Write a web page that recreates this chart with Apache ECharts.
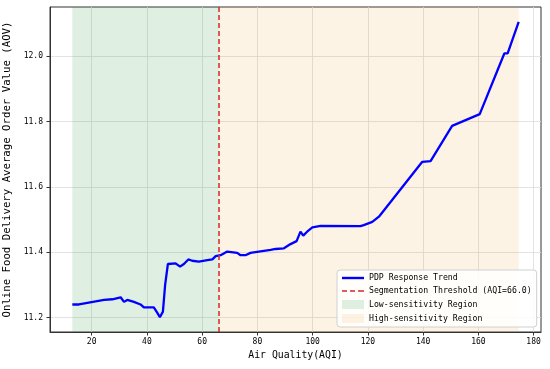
<!DOCTYPE html>
<html>
<head>
<meta charset="utf-8">
<script src="https://cdn.jsdelivr.net/npm/echarts@6/dist/echarts.min.js"></script>
<style>html,body{margin:0;padding:0;background:#fff}#c{width:550px;height:369px}</style>
</head>
<body>
<div id="c"></div>
<script>
var aqi = [13.0,15.4,24.5,27.5,30.5,31.7,32.9,35.3,37.7,38.9,42.5,43.5,44.7,45.8,46.6,47.6,50.4,52.0,53.4,55.0,56.4,58.8,61.9,63.7,64.9,66.7,69.1,72.7,73.9,75.7,77.5,80.5,84.8,86.6,89.6,92.0,94.2,95.6,96.6,98.0,99.9,102.9,117.3,118.5,121.6,124.0,139.7,142.7,150.5,160.5,169.4,170.6,174.6];
var aov = [11.240,11.240,11.254,11.256,11.262,11.248,11.254,11.248,11.240,11.231,11.231,11.218,11.201,11.218,11.300,11.364,11.366,11.356,11.364,11.378,11.374,11.371,11.376,11.378,11.388,11.391,11.402,11.398,11.391,11.391,11.398,11.402,11.407,11.410,11.412,11.425,11.434,11.463,11.451,11.463,11.476,11.481,11.480,11.483,11.493,11.509,11.677,11.679,11.787,11.823,12.009,12.009,12.106];
var threshold = 66.0;
var lowRegion = [13.0, 66.0];
var highRegion = [66.0, 174.6];
var xTicks = [20,40,60,80,100,120,140,160,180];
var yTicks = [11.2,11.4,11.6,11.8,12.0];
var names = ['PDP Response Trend','Segmentation Threshold (AQI=66.0)','Low-sensitivity Region','High-sensitivity Region'];

var FONT = '"DejaVu Sans Mono", "Liberation Mono", monospace';
var GREEN = 'rgba(30,150,60,0.14)';
var ORANGE = 'rgba(240,160,40,0.12)';
var lineData = aqi.map(function(x,i){return [x, aov[i]];});
var chart = echarts.init(document.getElementById('c'), null, {renderer:'canvas'});
var gridColor = '#dcdcdc';
chart.setOption({
  animation:false,
  backgroundColor:'#fff',
  textStyle:{fontFamily:FONT},
  grid:{left:50,right:9,top:7,bottom:37,containLabel:false,outerBoundsMode:'none',show:true,borderColor:'#333',borderWidth:1,backgroundColor:'transparent'},
  xAxis:{
    type:'value', min:4.92, max:182.68,
    name:'Air Quality(AQI)', nameLocation:'middle', nameGap:17,
    nameTextStyle:{fontSize:9.8,color:'#000',fontFamily:FONT},
    axisLine:{show:true,lineStyle:{color:'#333',width:1}},
    axisTick:{show:true,length:3.5,lineStyle:{color:'#333'},customValues:xTicks},
    axisLabel:{fontSize:8,color:'#000',margin:6,customValues:xTicks,fontFamily:FONT},
    splitLine:{show:true,lineStyle:{color:gridColor,width:0.8}}
  },
  yAxis:{
    type:'value', min:11.1557, max:12.1513,
    name:'Online Food Delivery Average Order Value (AOV)', nameLocation:'middle', nameGap:28,
    nameTextStyle:{fontSize:10.7,color:'#000',fontFamily:FONT},
    axisLine:{show:true,lineStyle:{color:'#333',width:1}},
    axisTick:{show:true,length:3.5,lineStyle:{color:'#333'},customValues:yTicks},
    axisLabel:{fontSize:8,color:'#000',margin:7,customValues:yTicks,fontFamily:FONT,formatter:function(v){return v.toFixed(1);}},
    splitLine:{show:true,lineStyle:{color:gridColor,width:0.8}}
  },
  legend:{
    left:337, top:270, orient:'vertical', itemGap:5, itemWidth:22, itemHeight:9,
    padding:[4,5,4,5], backgroundColor:'rgba(255,255,255,0.85)', borderColor:'#d0d0d0', borderWidth:1, borderRadius:3,
    textStyle:{fontSize:8.2,color:'#000',fontFamily:FONT},
    data:[
      {name:names[0], icon:'path://M0,0h22v2.4h-22z', itemStyle:{color:'#0000ff'}},
      {name:names[1], icon:'path://M0,0h5v1.6h-5z M8,0h5v1.6h-5z M16,0h6v1.6h-6z', itemStyle:{color:'#d62728'}},
      {name:names[2], icon:'rect', itemStyle:{color:GREEN}},
      {name:names[3], icon:'rect', itemStyle:{color:ORANGE}}
    ]
  },
  series:[
    {name:names[2], type:'line', data:[], color:GREEN, z:2,
      markArea:{silent:true, itemStyle:{color:GREEN}, data:[[{xAxis:lowRegion[0]},{xAxis:lowRegion[1]}]]}},
    {name:names[3], type:'line', data:[], color:ORANGE, z:2,
      markArea:{silent:true, itemStyle:{color:ORANGE}, data:[[{xAxis:highRegion[0]},{xAxis:highRegion[1]}]]}},
    {name:names[1], type:'line', data:[], color:'#d62728', z:3,
      markLine:{silent:true, symbol:'none', label:{show:false}, lineStyle:{color:'#d62728',width:1.5,type:[5,3]}, data:[{xAxis:threshold}]}},
    {name:names[0], type:'line', data:lineData, color:'#0000ff', z:4, showSymbol:false, symbol:'none',
      lineStyle:{color:'#0000ff',width:2.3}}
  ]
});
</script>
</body>
</html>
